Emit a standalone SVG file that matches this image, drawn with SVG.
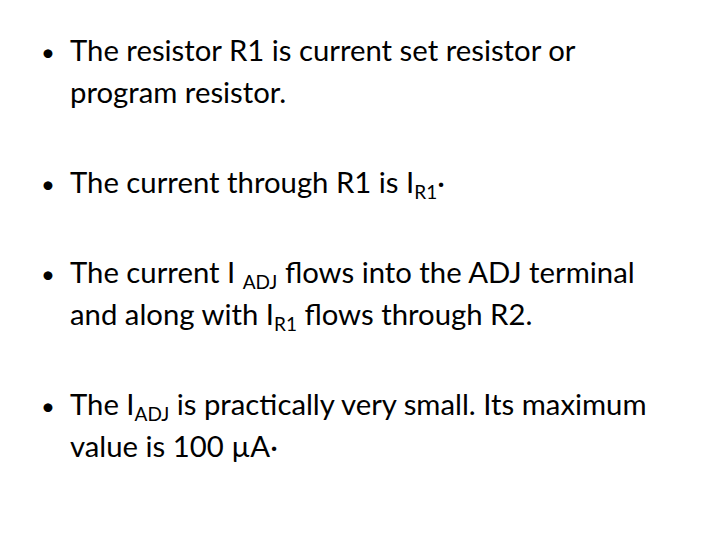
<svg xmlns="http://www.w3.org/2000/svg" width="720" height="540" viewBox="0 0 720 540">
<style>
text{font-family:Lato,"Open Sans",sans-serif;font-size:29.3px;fill:#000}
.s{font-size:19px}
.b{font-size:24px}
</style>
<rect width="720" height="540" fill="#fff"/>
<g id="b1"><text class="b" x="41" y="61">•</text><text x="70" y="61">The resistor R1 is current set resistor or</text><text x="70" y="103">program resistor.</text></g>
<g id="b2"><text class="b" x="41" y="193">•</text><text x="70" y="193">The current through R1 is I<tspan class="s" dy="6">R1</tspan><tspan dy="-6">·</tspan></text></g>
<g id="b3"><text class="b" x="41" y="283">•</text><text x="70" y="283">The current I <tspan class="s" dy="6">ADJ</tspan><tspan dy="-6"> flows into the ADJ terminal</tspan></text><text x="70" y="325">and along with I<tspan class="s" dy="6">R1</tspan><tspan dy="-6"> flows through R2.</tspan></text></g>
<g id="b4"><text class="b" x="41" y="415">•</text><text x="70" y="415">The I<tspan class="s" dy="6">ADJ</tspan><tspan dy="-6"> is practically very small. Its maximum</tspan></text><text x="70" y="457">value is 100 µA·</text></g>
</svg>
